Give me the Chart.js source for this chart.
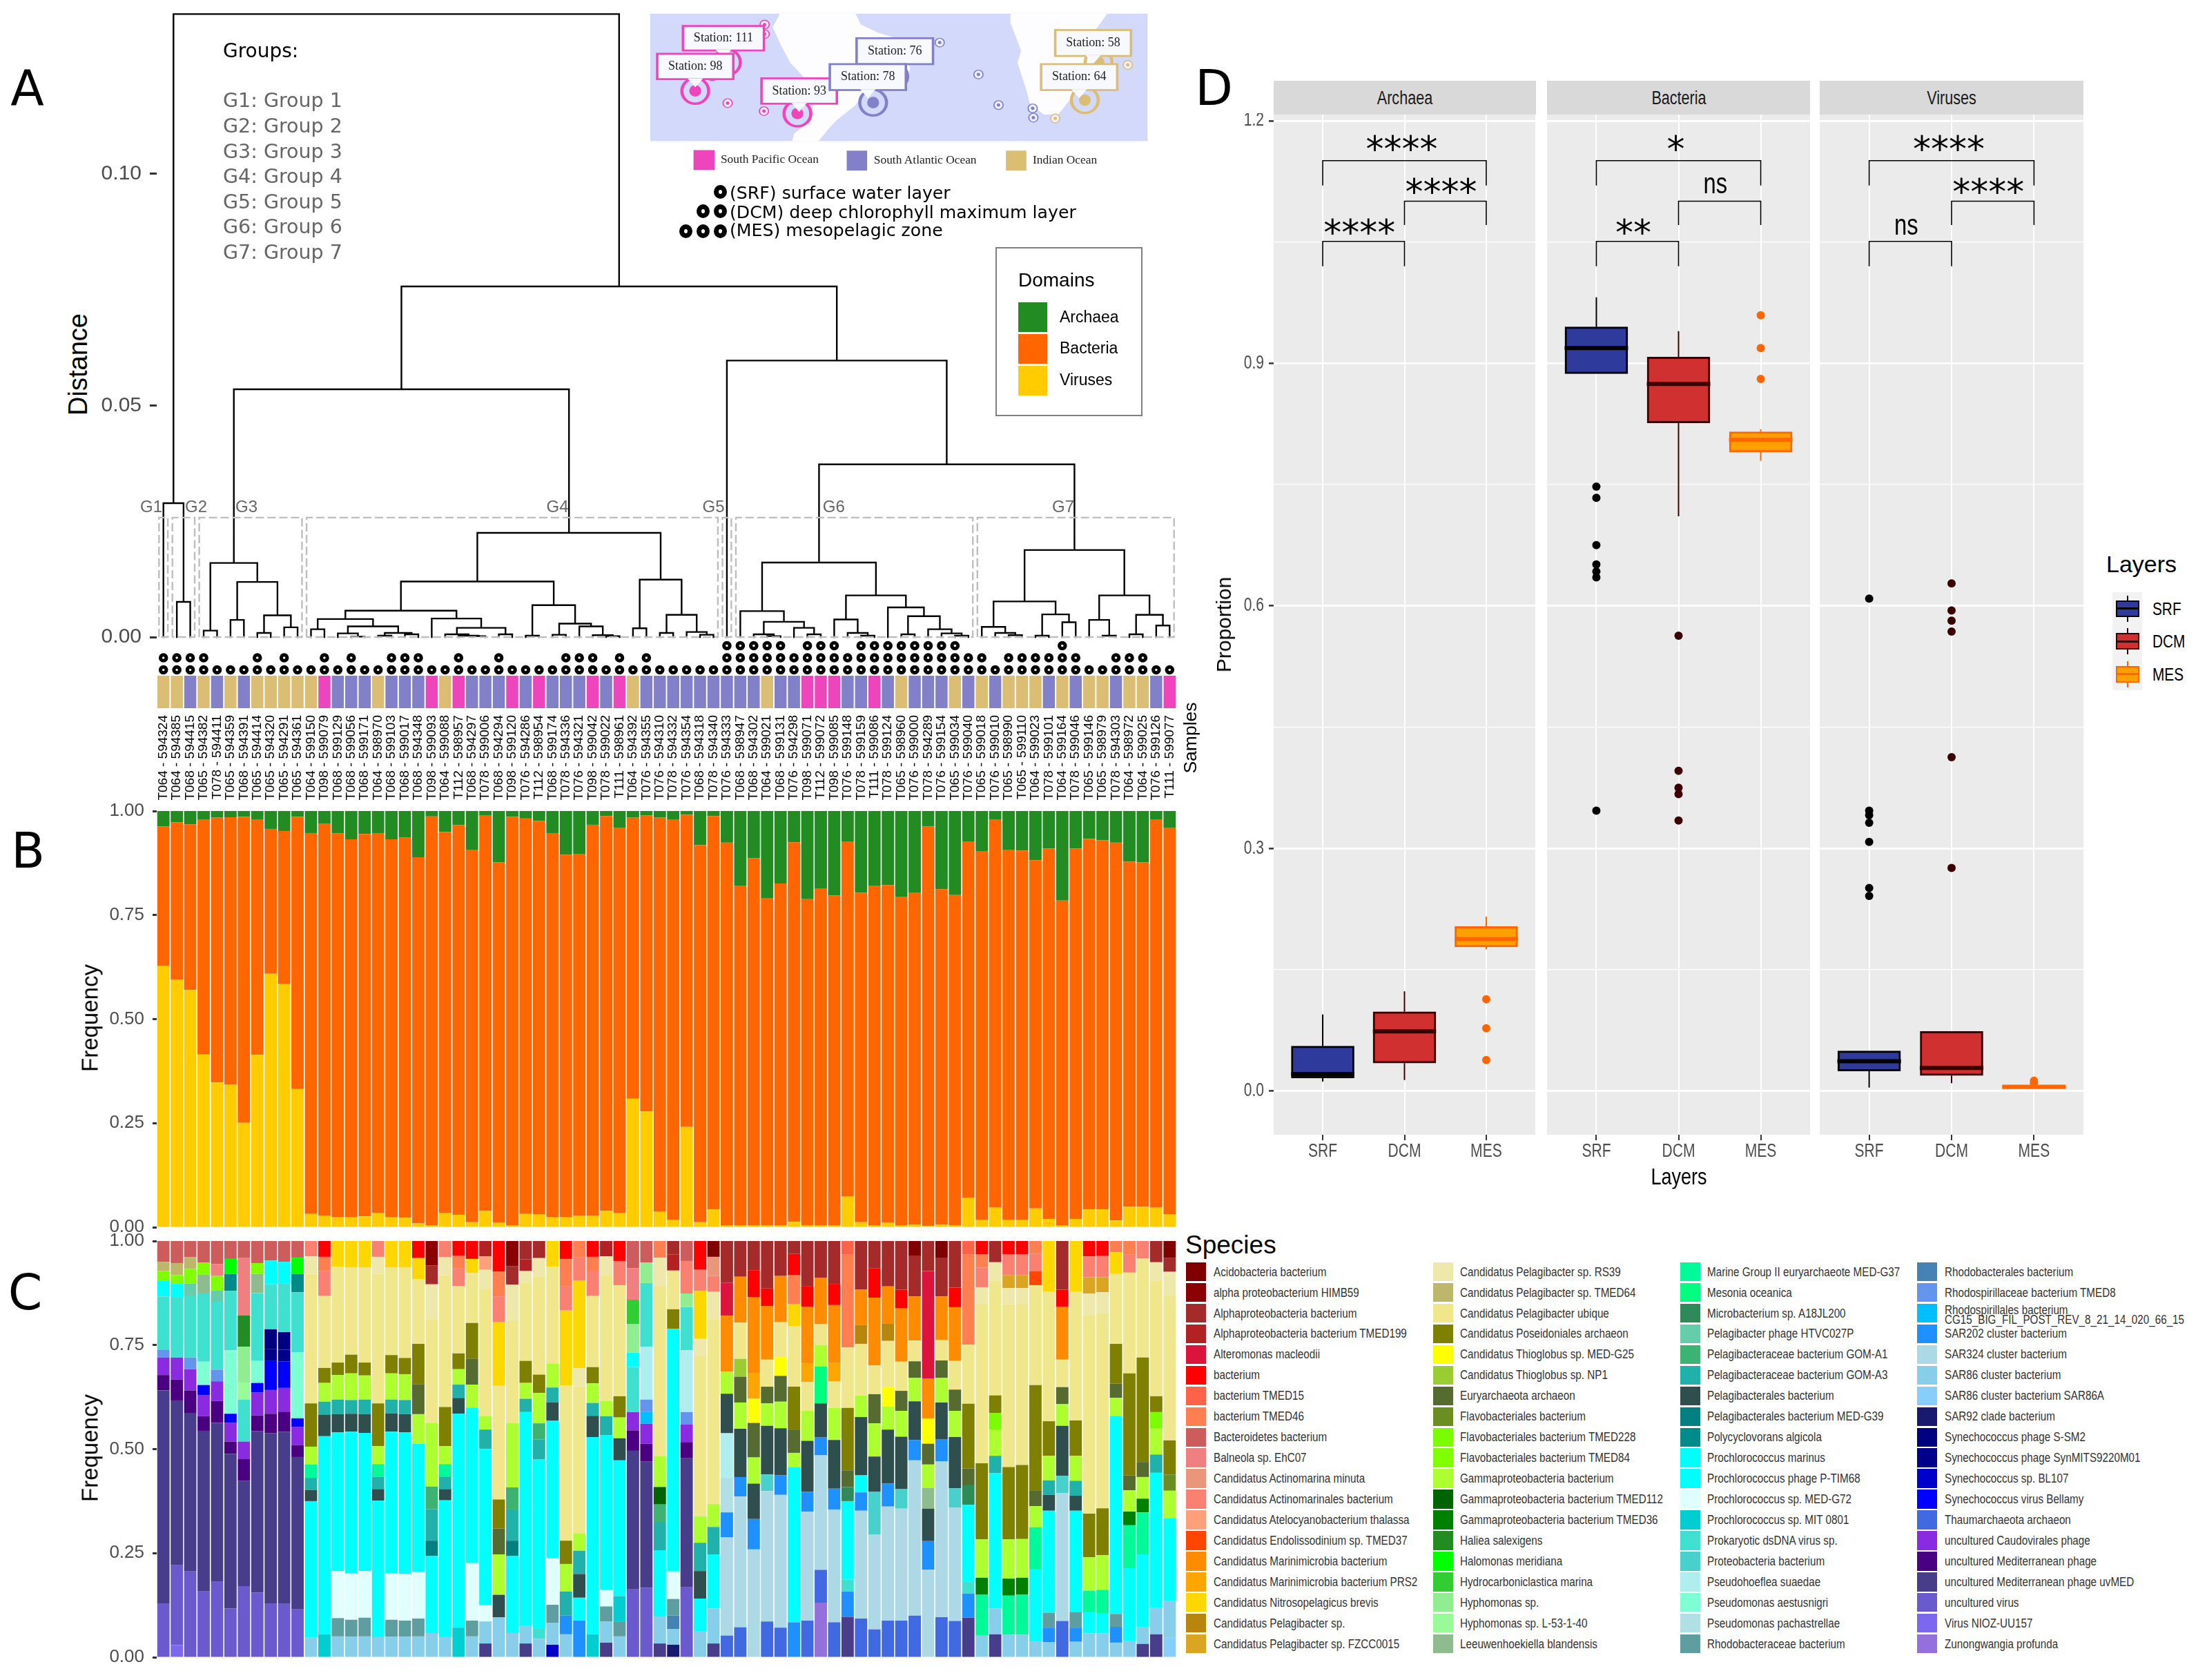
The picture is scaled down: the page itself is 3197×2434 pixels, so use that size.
<!DOCTYPE html>
<html>
<head>
<meta charset="utf-8">
<title>Panels A-D</title>
<script src="https://cdn.jsdelivr.net/npm/chart.js@4"></script>
<style>
  html, body { margin: 0; background: #fff; }
  #page { position: relative; width: 3197px; height: 2434px; overflow: hidden; background: #fff; }
  #page canvas, #page svg { position: absolute; }
  .txt { position: absolute; white-space: nowrap; line-height: 1; }
  .box { position: absolute; box-sizing: border-box; }
</style>
</head>
<body>
<div id="page"></div>
<script>
// ---- samples
const sampleLabels = [
  'T064 - 594324','T064 - 594385','T068 - 594415','T065 - 594382','T078 - 594411','T065 - 594359','T068 - 594391','T065 - 594414','T065 - 594320','T065 - 594291',
  'T065 - 594361','T064 - 599150','T098 - 599079','T068 - 599129','T068 - 599056','T068 - 599171','T064 - 598970','T068 - 599103','T068 - 599017','T068 - 594348',
  'T098 - 599093','T064 - 599088','T112 - 598957','T068 - 594297','T078 - 599006','T068 - 594294','T098 - 599120','T076 - 594286','T112 - 598954','T068 - 599174',
  'T078 - 594336','T076 - 594321','T098 - 599042','T078 - 599022','T111 - 598961','T064 - 594392','T076 - 594355','T076 - 594310','T078 - 594332','T076 - 594354',
  'T068 - 594318','T078 - 594340','T076 - 594333','T068 - 598947','T068 - 594302','T064 - 599021','T068 - 599131','T076 - 594298','T098 - 599071','T112 - 599072',
  'T098 - 599085','T076 - 599148','T078 - 599159','T111 - 599086','T078 - 599124','T065 - 598960','T076 - 599000','T078 - 594289','T076 - 599154','T065 - 599034',
  'T076 - 599040','T065 - 599018','T076 - 599010','T065 - 598990','T065 - 599110','T064 - 599023','T078 - 599101','T064 - 599164','T078 - 599046','T065 - 599146',
  'T065 - 598979','T078 - 594303','T064 - 598972','T064 - 599025','T076 - 599126','T111 - 599077'];
const stationOcean = { T064: 'Indian', T065: 'Indian', T068: 'Atlantic', T076: 'Atlantic', T078: 'Atlantic', T098: 'Pacific', T111: 'Pacific', T112: 'Pacific' };

// circles above the samples: every sample has the first one
const dcmRow = [1,2,3,4,8,10,13,15,18,19,20,23,26,31,32,33,35,37,43,44,45,46,47,48,49,50,51,52,53,54,55,56,57,58,59,60,61,62,64,65,66,67,68,69,72,73,74];
const mesRow = [43,44,45,46,47,49,50,51,53,54,55,56,57,58,59,60,68];

// ---- panel A, tree as [height, left, right], leaves are sample numbers
const treeG1G2 = [0.0289, 1, [0.0076, 2, 3]];
const treeG3 = [0.0160, [0.0014, 4, 5], [0.0119, [0.0037, 6, 7], [0.0047, [0.0009, 8, 9], [0.0021, 10, 11]]]];
const treeG4 = [0.0225,
  [0.0120,
    [0.0057,
      [0.0039, [0.0017, 12, 13], [0.0023, [0.0008, 14, [0.0001, 15, 16]], [0.0009, [0.0003, 17, 18], [0.0006, 19, 20]]]],
      [0.0040, 21, [0.0020, [0.0006, 22, [0.0003, 23, [0.0002, 24, 25]]], [0.0006, 26, 27]]]],
    [0.0069, [0.0003, 28, 29], [0.0029, [0.0005, 30, 31], [0.0023, 32, [0.0004, 33, [0.0002, 34, 35]]]]]],
  [0.0124, [0.0019, 36, 37], [0.0048, [0.0009, 38, 39], [0.0011, 40, [0.0005, 41, 42]]]]];
const treeG6 = [0.0161,
  [0.0056, 44, [0.0033, [0.0006, 45, [0.0002, 46, 47]], [0.0020, 48, [0.0006, 49, 50]]]],
  [0.0090,
    [0.0038, 51, [0.0009, 52, [0.0003, 53, 54]]],
    [0.0064, 55, [0.0045, [0.0006, 56, 57], [0.0017, 58, [0.0008, 59, [0.0003, 60, 61]]]]]]];
const treeG7 = [0.0188,
  [0.0077, [0.0022, 62, [0.0009, 63, [0.0004, 64, 65]]], [0.0049, [0.0003, 66, 67], [0.0032, 68, 69]]],
  [0.0090, [0.0037, 70, [0.0003, 71, 72]], [0.0048, [0.0006, 73, 74], [0.0025, 75, 76]]]];
const sampleTree = [0.1345, treeG1G2,
  [0.0757,
    [0.0535, treeG3, treeG4],
    [0.0597, 43, [0.0373, treeG6, treeG7]]]];
const groupNames = ['G1','G2','G3','G4','G5','G6','G7'];
const groupRanges = [[1,1],[2,3],[4,11],[12,42],[43,43],[44,61],[62,76]];
const groupBoxHeight = 0.0258;
const distanceTicks = [0, 0.05, 0.10];

// ---- panel B
const domainViruses = [.628,.595,.570,.415,.348,.343,.251,.414,.609,.584,.332,.032,.028,.024,.024,.026,.034,.024,.023,.009,.005,.034,.030,.012,.039,.011,.005,.032,.031,.024,.024,.028,.028,.039,.034,
  .309,.278,.038,.018,.241,.012,.043,.005,.005,.005,.005,.005,.013,.005,.005,.005,.074,.012,.005,.011,.005,.006,.003,.006,.005,.071,.018,.048,.018,.018,.045,.020,.005,.020,.043,.043,.016,.049,.049,.048,.031];
// top of the orange part of each bar
const domainBacteriaTop = [.963,.973,.968,.980,.984,.985,.986,.980,.957,.952,.986,.947,.969,.946,.932,.945,.947,.932,.936,.889,.987,.950,.966,.907,.990,.877,.986,.982,.976,.947,.895,.897,.967,.988,.959,
  .984,.989,.984,.980,.991,.918,.988,.924,.821,.887,.791,.826,.925,.788,.813,.797,.927,.804,.821,.822,.793,.803,.963,.812,.798,.927,.904,.980,.906,.905,.882,.910,.785,.910,.933,.930,.924,.878,.877,.980,.959];
const frequencyTicks = [0, 0.25, 0.5, 0.75, 1];

// ---- panel C species, legend order = stack order from the top
const speciesKeys = ['Aci','HIM','Alp','T199','Alt','bac','T15','T46','Bde','Bal','Ami','Aml','Ate','End','Mar','PRS','Nit','Psp','FZC',
  'RS39','T64','Ubi','Pos','G25','NP1','Eur','Fla','T228','T84','Gam','T112','T36','Hal','Hmn','Hyd','Hyp','L53','Lee',
  'G37','Mes','Mic','Pph','A1','A3','Pbr','G39','Pol','Pro','PTM','G72','MIT','dsD','Prt','Pse','Aes','Pac','Rbc',
  'Rbl','T8','Rsp','S202','S324','S86','S86A','S92','SSM','Syn','BL1','Bel','Tha','Cau','Med','uvM','unV','NIO','Zun'];
const speciesNames = ['Acidobacteria bacterium','alpha proteobacterium HIMB59','Alphaproteobacteria bacterium','Alphaproteobacteria bacterium TMED199','Alteromonas macleodii','bacterium','bacterium TMED15','bacterium TMED46','Bacteroidetes bacterium','Balneola sp. EhC07','Candidatus Actinomarina minuta','Candidatus Actinomarinales bacterium','Candidatus Atelocyanobacterium thalassa','Candidatus Endolissodinium sp. TMED37','Candidatus Marinimicrobia bacterium','Candidatus Marinimicrobia bacterium PRS2','Candidatus Nitrosopelagicus brevis','Candidatus Pelagibacter sp.','Candidatus Pelagibacter sp. FZCC0015',
  'Candidatus Pelagibacter sp. RS39','Candidatus Pelagibacter sp. TMED64','Candidatus Pelagibacter ubique','Candidatus Poseidoniales archaeon','Candidatus Thioglobus sp. MED-G25','Candidatus Thioglobus sp. NP1','Euryarchaeota archaeon','Flavobacteriales bacterium','Flavobacteriales bacterium TMED228','Flavobacteriales bacterium TMED84','Gammaproteobacteria bacterium','Gammaproteobacteria bacterium TMED112','Gammaproteobacteria bacterium TMED36','Haliea salexigens','Halomonas meridiana','Hydrocarboniclastica marina','Hyphomonas sp.','Hyphomonas sp. L-53-1-40','Leeuwenhoekiella blandensis',
  'Marine Group II euryarchaeote MED-G37','Mesonia oceanica','Microbacterium sp. A18JL200','Pelagibacter phage HTVC027P','Pelagibacteraceae bacterium GOM-A1','Pelagibacteraceae bacterium GOM-A3','Pelagibacterales bacterium','Pelagibacterales bacterium MED-G39','Polycyclovorans algicola','Prochlorococcus marinus','Prochlorococcus phage P-TIM68','Prochlorococcus sp. MED-G72','Prochlorococcus sp. MIT 0801','Prokaryotic dsDNA virus sp.','Proteobacteria bacterium','Pseudohoeflea suaedae','Pseudomonas aestusnigri','Pseudomonas pachastrellae','Rhodobacteraceae bacterium',
  'Rhodobacterales bacterium','Rhodospirillaceae bacterium TMED8','Rhodospirillales bacterium\nCG15_BIG_FIL_POST_REV_8_21_14_020_66_15','SAR202 cluster bacterium','SAR324 cluster bacterium','SAR86 cluster bacterium','SAR86 cluster bacterium SAR86A','SAR92 clade bacterium','Synechococcus phage S-SM2','Synechococcus phage SynMITS9220M01','Synechococcus sp. BL107','Synechococcus virus Bellamy','Thaumarchaeota archaeon','uncultured Caudovirales phage','uncultured Mediterranean phage','uncultured Mediterranean phage uvMED','uncultured virus','Virus NIOZ-UU157','Zunongwangia profunda'];
const speciesColors = ['#800000','#8B0000','#A52A2A','#B22222','#DC143C','#FF0000','#FF6347','#FF7F50','#CD5C5C','#F08080','#E9967A','#FA8072','#FFA07A','#FF4500','#FF8C00','#FFA500','#FFD700','#B8860B','#DAA520',
  '#EEE8AA','#BDB76B','#F0E68C','#808000','#FFFF00','#9ACD32','#556B2F','#6B8E23','#7CFC00','#7FFF00','#ADFF2F','#006400','#008000','#228B22','#00FF00','#32CD32','#90EE90','#98FB98','#8FBC8F',
  '#00FA9A','#00FF7F','#2E8B57','#66CDAA','#3CB371','#20B2AA','#2F4F4F','#008080','#008B8B','#00FFFF','#00FFFF','#E0FFFF','#00CED1','#40E0D0','#48D1CC','#AFEEEE','#7FFFD4','#B0E0E6','#5F9EA0',
  '#4682B4','#6495ED','#00BFFF','#1E90FF','#ADD8E6','#87CEEB','#87CEFA','#191970','#000080','#00008B','#0000CD','#0000FF','#4169E1','#8A2BE2','#4B0082','#483D8B','#6A5ACD','#7B68EE','#9370DB'];

// each sample, top to bottom: species, then where that segment ends
const speciesStacks = [
  ['Bde',.950,'T64',.928,'T84',.905,'Pro',.867,'dsD',.739,'T8',.720,'Cau',.678,'Med',.641,'uvM',.128,'unV',0],
  ['Bde',.947,'T64',.918,'T84',.897,'Pro',.864,'dsD',.720,'Cau',.667,'Med',.617,'uvM',.221,'unV',.029,'NIO',0],
  ['Bde',.961,'T64',.933,'T84',.898,'Pph',.869,'dsD',.720,'T8',.692,'Cau',.641,'Med',.587,'uvM',.206,'unV',0],
  ['Bde',.948,'T84',.919,'Lee',.874,'dsD',.710,'Aes',.654,'Bel',.630,'Cau',.579,'Med',.544,'uvM',.158,'unV',0],
  ['Bde',.945,'Bal',.916,'T84',.881,'Pph',.854,'dsD',.691,'T8',.663,'Cau',.616,'Med',.563,'uvM',.181,'unV',0],
  ['Bde',.957,'Hmn',.921,'Pol',.880,'dsD',.737,'Aes',.585,'Bel',.563,'Cau',.518,'Med',.489,'uvM',.117,'unV',0],
  ['Bde',.960,'Bal',.821,'Hal',.746,'Hyp',.659,'L53',.619,'dsD',.518,'Cau',.477,'Med',.424,'uvM',.171,'unV',0],
  ['Bde',.947,'T84',.921,'Lee',.875,'dsD',.712,'Aes',.659,'Bel',.636,'Cau',.581,'Med',.543,'uvM',.155,'unV',0],
  ['Bde',.953,'Pro',.896,'dsD',.788,'SSM',.741,'Syn',.713,'Bel',.642,'Cau',.585,'Med',.538,'uvM',.128,'unV',0],
  ['Bde',.950,'Pro',.898,'dsD',.781,'SSM',.739,'Syn',.711,'Bel',.647,'Cau',.590,'Med',.542,'uvM',.128,'unV',0],
  ['Bde',.960,'Hmn',.921,'Pol',.877,'dsD',.733,'Aes',.574,'Bel',.553,'Cau',.510,'Med',.481,'uvM',.115,'unV',0],
  ['Aml',.963,'RS39',.921,'Ubi',.610,'Pos',.506,'Gam',.463,'G37',.431,'A3',.402,'Pbr',.375,'Pro',.047,'S86',0],
  ['bac',.962,'T46',.928,'Aml',.868,'Ubi',.695,'Pos',.659,'Gam',.614,'A3',.583,'Pbr',.531,'Pro',.055,'MIT',0],
  ['Nit',.938,'Ubi',.708,'Pos',.678,'Gam',.619,'A3',.584,'Pbr',.540,'Pro',.207,'G72',.094,'Rbc',.050,'S86',0],
  ['Nit',.937,'Ubi',.727,'Pos',.682,'Gam',.618,'A3',.585,'Pbr',.542,'Pro',.202,'G72',.090,'Rbc',.049,'S86',0],
  ['Nit',.937,'Ubi',.708,'Pos',.677,'Gam',.619,'A3',.584,'Pbr',.539,'Pro',.207,'G72',.095,'Rbc',.050,'S86',0],
  ['Aml',.962,'RS39',.921,'Ubi',.610,'Pos',.507,'Gam',.464,'G37',.433,'A3',.404,'Pbr',.376,'Pro',.048,'S86',0],
  ['Nit',.937,'Ubi',.726,'Pos',.682,'Gam',.619,'A3',.586,'Pbr',.542,'Pro',.202,'G72',.090,'Rbc',.049,'S86',0],
  ['Nit',.936,'Ubi',.719,'Pos',.680,'Gam',.618,'A3',.584,'Pbr',.540,'Pro',.200,'G72',.088,'Rbc',.049,'S86',0],
  ['bac',.959,'Nit',.908,'Ubi',.753,'Pos',.656,'Eur',.584,'Gam',.513,'Pro',.205,'G72',.093,'Rbc',.050,'S86',0],
  ['HIM',.941,'Alp',.896,'RS39',.811,'Ubi',.563,'Gam',.410,'A1',.356,'A3',.280,'G39',.243,'Pro',.058,'S86',0],
  ['Aml',.961,'RS39',.918,'Ubi',.601,'Pos',.507,'Gam',.464,'G37',.434,'A3',.404,'Pbr',.377,'Pro',.048,'S86',0],
  ['bac',.965,'T46',.935,'Aml',.892,'Ubi',.730,'Pos',.692,'Gam',.655,'A3',.623,'Pbr',.585,'Pro',.071,'MIT',0],
  ['bac',.957,'Nit',.923,'Ubi',.803,'Pos',.717,'Eur',.655,'Gam',.600,'Pro',.226,'G72',.088,'Rbc',.050,'S86',0],
  ['T199',.963,'Ate',.931,'RS39',.885,'Ubi',.580,'Gam',.547,'A3',.500,'Pro',.126,'G72',.086,'S86',.033,'uvM',0],
  ['bac',.927,'T46',.867,'Aml',.806,'Nit',.652,'Ubi',.379,'Pos',.309,'Eur',.247,'Gam',.150,'Pbr',.096,'S86',0],
  ['HIM',.940,'Alp',.895,'RS39',.810,'Ubi',.563,'Gam',.408,'A1',.355,'A3',.280,'G39',.243,'Pro',.058,'S86',0],
  ['Alp',.956,'T199',.928,'RS39',.900,'Ubi',.712,'Pos',.659,'Gam',.621,'A3',.589,'Pro',.076,'S86',.033,'uvM',0],
  ['Alp',.959,'RS39',.914,'Ubi',.679,'Pos',.635,'Gam',.562,'A1',.523,'A3',.475,'Pro',.068,'dsD',.044,'S86',0],
  ['Nit',.938,'Ubi',.706,'Gam',.648,'A3',.612,'Pbr',.568,'Pro',.239,'G72',.126,'Rbc',.082,'S86',.030,'BL1',0],
  ['bac',.957,'T46',.892,'Aml',.833,'Nit',.653,'Ubi',.280,'Pos',.224,'Gam',.158,'A3',.100,'S202',.055,'S86',0],
  ['T46',.961,'Aml',.905,'Nit',.695,'RS39',.651,'Ubi',.297,'Gam',.256,'A3',.200,'Pbr',.143,'Pro',.088,'S202',0],
  ['bac',.962,'T46',.927,'Aml',.868,'Ubi',.697,'Pos',.658,'Gam',.611,'A3',.580,'Pbr',.529,'Pro',.055,'MIT',0],
  ['T199',.963,'RS39',.917,'Ubi',.616,'Gam',.579,'A3',.534,'Pro',.162,'G72',.122,'Rbc',.086,'S86',.035,'uvM',0],
  ['bac',.952,'Aml',.894,'Ubi',.627,'Pos',.576,'Gam',.526,'Pbr',.473,'Pro',.147,'MIT',.086,'Rbc',.050,'S86',0],
  ['Bde',.935,'Bal',.859,'Hyd',.800,'Hyp',.732,'Pro',.697,'dsD',.589,'Cau',.545,'Med',.496,'uvM',.163,'unV',0],
  ['Bde',.948,'Hyp',.899,'dsD',.746,'Pse',.619,'T8',.590,'Rsp',.561,'Cau',.513,'Med',.470,'uvM',.167,'unV',0],
  ['T46',.960,'RS39',.893,'Ubi',.483,'Gam',.409,'T112',.367,'A1',.325,'A3',.257,'Pro',.098,'S86',.033,'uvM',0],
  ['Alp',.968,'T199',.929,'Ubi',.836,'Pos',.789,'Pro',.206,'G72',.140,'Rbc',.100,'Rbl',.068,'S86',.030,'S92',0],
  ['Bde',.952,'Aml',.874,'Hyp',.841,'dsD',.738,'Pse',.589,'T8',.559,'Cau',.517,'Med',.478,'uvM',.168,'unV',0],
  ['bac',.932,'Aml',.880,'Nit',.765,'RS39',.723,'Ubi',.339,'Gam',.275,'A3',.207,'Pbr',.141,'Pro',.063,'S86',0],
  ['Aci',.962,'Ami',.916,'Aml',.878,'RS39',.811,'Ubi',.368,'Gam',.313,'A3',.247,'Pro',.117,'S86',.033,'uvM',0],
  ['Alp',.900,'Alt',.821,'Mar',.686,'Gam',.633,'Pbr',.538,'Pse',.431,'Pac',.348,'S202',.288,'S324',.052,'Tha',0],
  ['Alp',.914,'Mar',.804,'Ubi',.717,'NP1',.674,'Eur',.612,'Gam',.549,'Pbr',.433,'S202',.386,'S324',.072,'Tha',0],
  ['Alp',.930,'bac',.865,'Mar',.682,'PRS',.621,'G25',.563,'Eur',.480,'Gam',.417,'Pbr',.332,'S202',.259,'S324',0],
  ['Alp',.886,'bac',.844,'Mar',.715,'Ubi',.650,'Eur',.610,'Gam',.556,'Pbr',.439,'Prt',.399,'S324',.086,'Tha',0],
  ['Alp',.916,'Mar',.805,'Ubi',.721,'G25',.676,'Eur',.614,'Gam',.550,'Pbr',.437,'S202',.390,'S324',.071,'Tha',0],
  ['Alp',.969,'bac',.918,'T46',.849,'Nit',.796,'Ubi',.650,'Pos',.547,'Eur',.491,'Gam',.457,'Pro',.084,'S202',0],
  ['Alp',.892,'bac',.842,'Mar',.706,'PRS',.661,'Ubi',.592,'Gam',.520,'Pbr',.397,'S202',.350,'S324',.088,'Tha',0],
  ['Alp',.912,'Mar',.800,'Ubi',.750,'Gam',.698,'Mes',.610,'Pbr',.528,'S202',.485,'S324',.210,'Tha',.131,'Zun',0],
  ['Alp',.897,'bac',.846,'Mar',.707,'PRS',.663,'Ubi',.599,'Gam',.522,'Pbr',.405,'S202',.355,'S324',.084,'Tha',0],
  ['T15',.968,'T46',.744,'Ubi',.599,'Pos',.449,'Eur',.409,'Mic',.375,'Pro',.186,'dsD',.158,'S202',.097,'uvM',0],
  ['Alp',.883,'Mar',.798,'Psp',.753,'Ubi',.629,'Gam',.577,'Pbr',.437,'Pro',.396,'S202',.352,'S324',.093,'Tha',0],
  ['Alp',.934,'bac',.864,'Mar',.701,'Ubi',.632,'Eur',.562,'Gam',.482,'Pbr',.398,'Prt',.295,'S324',.067,'Tha',0],
  ['Alp',.891,'Mar',.802,'Psp',.760,'Ubi',.650,'G25',.602,'Gam',.547,'Pbr',.417,'S202',.362,'S324',.088,'Tha',0],
  ['Alp',.883,'bac',.839,'Mar',.710,'Ubi',.640,'Eur',.592,'Gam',.530,'Pbr',.404,'Prt',.357,'S324',.088,'Tha',0],
  ['Aci',.965,'Alp',.867,'Mar',.761,'Ubi',.711,'Eur',.671,'Gam',.615,'Pbr',.522,'S202',.473,'S324',.100,'Tha',0],
  ['Alp',.928,'Alt',.669,'Mar',.574,'G25',.513,'Eur',.463,'Gam',.407,'Lee',.357,'Pbr',.279,'S202',.210,'S324',0],
  ['Aci',.960,'Alp',.867,'Mar',.762,'Ubi',.713,'Eur',.671,'Gam',.612,'Pbr',.524,'S202',.471,'S324',.096,'Tha',0],
  ['Alp',.888,'bac',.841,'Mar',.712,'Ubi',.643,'Eur',.592,'Gam',.529,'Pbr',.406,'Prt',.359,'S324',.087,'Tha',0],
  ['T15',.968,'T46',.751,'Ubi',.609,'Pos',.453,'Eur',.413,'Mic',.366,'Pro',.182,'dsD',.153,'S202',.095,'uvM',0],
  ['bac',.968,'T46',.936,'Aml',.889,'RS39',.849,'Ubi',.466,'Pos',.283,'Gam',.191,'T36',.150,'G37',.052,'S86',0],
  ['Alp',.949,'RS39',.905,'Ubi',.629,'Pos',.587,'T228',.547,'Gam',.484,'A3',.442,'Pro',.117,'S86',.055,'uvM',0],
  ['bac',.968,'Aml',.918,'FZC',.887,'RS39',.848,'Ubi',.457,'Pos',.283,'Gam',.189,'T36',.148,'G37',.054,'S86',0],
  ['bac',.968,'Aml',.918,'FZC',.887,'RS39',.849,'Ubi',.462,'Pos',.284,'Gam',.191,'T36',.150,'G37',.054,'S86',0],
  ['T46',.969,'Aml',.927,'End',.894,'Ubi',.654,'Pos',.401,'Eur',.363,'Gam',.312,'G37',.211,'Pro',.038,'S86',0],
  ['Nit',.879,'Ubi',.567,'Pos',.484,'Gam',.425,'A3',.390,'Pbr',.352,'Pro',.107,'Rbc',.071,'S202',.036,'S86',0],
  ['Alp',.883,'bac',.842,'Mar',.715,'Ubi',.649,'Eur',.608,'Gam',.556,'Pbr',.436,'Prt',.394,'S324',.087,'Tha',0],
  ['Nit',.879,'Ubi',.569,'Pos',.484,'Gam',.424,'A3',.388,'Pbr',.352,'Pro',.108,'Rbc',.071,'S202',.037,'S86',0],
  ['bac',.963,'Aml',.913,'FZC',.874,'RS39',.822,'Ubi',.345,'Pos',.240,'Gam',.160,'G37',.108,'Pro',.057,'S86',0],
  ['bac',.964,'Aml',.913,'FZC',.877,'RS39',.826,'Ubi',.358,'Pos',.245,'Gam',.162,'G37',.106,'Pro',.057,'S86',0],
  ['T46',.973,'Nit',.921,'Ubi',.753,'Pos',.657,'Eur',.623,'Gam',.579,'Pro',.104,'Rbc',.073,'S202',.035,'S86',0],
  ['T46',.968,'Aml',.924,'Ubi',.682,'Pos',.437,'Eur',.401,'Gam',.350,'T36',.317,'G37',.214,'Pro',.039,'S86',0],
  ['Aml',.958,'Ubi',.720,'Pos',.469,'Eur',.433,'Gam',.381,'T36',.348,'G37',.247,'Pro',.072,'S86',.032,'uvM',0],
  ['Alp',.949,'RS39',.905,'Ubi',.627,'Pos',.589,'T228',.550,'Gam',.487,'A3',.443,'Pro',.118,'S86',.055,'uvM',0],
  ['Aci',.960,'Alp',.926,'RS39',.869,'Ubi',.521,'Pos',.439,'Fla',.400,'Gam',.334,'Pro',.135,'S86',.047,'S86A',0]
];

// ---- panel D, boxes per layer: [low whisker, q1, median, q3, high whisker]
const layerNames = ['SRF', 'DCM', 'MES'];
const archaeaBoxes = [[.0117,.0159,.021,.0555,.0947], [.0135,.0345,.0737,.098,.1232], [.1754,.1782,.188,.2034,.2156]];
const bacteriaBoxes = [[.8873,.8873,.919,.9451,.9817], [.7109,.8263,.8746,.9077,.9399], [.7793,.7902,.8054,.8154,.8185]];
const virusesBoxes = [[.0042,.0247,.0369,.0495,.0495], [.0098,.0191,.0285,.0737,.0737], [.0033,.0033,.005,.0075,.0075]];
const archaeaOutliers = [[], [], [.1134,.0775,.0383]];
const bacteriaOutliers = [[.7475,.7336,.6752,.6513,.6426,.6352,.3467], [.5632,.3961,.3751,.3672,.3345], [.9595,.919,.8807]];
const virusesOutliers = [[.6091,.3467,.3411,.3318,.308,.251,.2412], [.6278,.5944,.5818,.5683,.4129,.2758], [.0126,.0098]];
const archaeaSig = ['****', '****', '****'];
const bacteriaSig = ['*', 'ns', '**'];
const virusesSig = ['****', '****', 'ns'];
const proportionTicks = [0, .15, .3, .45, .6, .75, .9, 1.05, 1.2];

// ---- styling
const oceanColor = { Pacific: '#EF45BC', Atlantic: '#8280C8', Indian: '#DBBE74' };
const domainColor = { Archaea: '#228B22', Bacteria: '#FF6600', Viruses: '#FFCC00' };
const layerFill = ['#2E3A9C', '#D13030', '#FF9F00'];
const layerEdge = ['#000000', '#3A0000', '#FF6600'];
const SANS = '"Liberation Sans",Arial,sans-serif';
const DEJAVU = '"DejaVu Sans",sans-serif';
const SERIF = '"Liberation Serif",serif';
const SQUEEZE = 0.78;   // panel D text in the figure is squeezed sideways

const page = document.getElementById('page');
Chart.defaults.animation = false;
Chart.defaults.responsive = false;
Chart.defaults.devicePixelRatio = 1;
Chart.defaults.layout.autoPadding = false;

// ---- page helpers
function addText(text, x, y, opts) {
  opts = opts || {};
  const el = document.createElement('div');
  el.className = 'txt';
  el.innerHTML = text.replace(/\n/g, '<br>');
  el.style.left = x + 'px';
  el.style.top = y + 'px';
  el.style.font = (opts.size || 20) + 'px ' + (opts.font || SANS);
  el.style.lineHeight = opts.lineHeight || 1;
  el.style.color = opts.color || '#000';
  const shift = opts.anchor === 'left' ? 'translate(0,-50%)' : 'translate(-50%,-50%)';
  el.style.transformOrigin = opts.anchor === 'left' ? 'left center' : 'center';
  el.style.transform = shift + (opts.rotate ? ' rotate(' + opts.rotate + 'deg)' : '') + (opts.sx ? ' scaleX(' + opts.sx + ')' : '');
  page.appendChild(el);
  return el;
}
function addBox(l, t, w, h, css) {
  const el = document.createElement('div');
  el.className = 'box';
  el.style.left = l + 'px'; el.style.top = t + 'px';
  el.style.width = w + 'px'; el.style.height = h + 'px';
  Object.assign(el.style, css);
  page.appendChild(el);
  return el;
}
// canvas placed so that the chart area lands on plot {l,t,r,b}
function addCanvas(plot, m) {
  const c = document.createElement('canvas');
  c.width = plot.r - plot.l + m.l + m.r;
  c.height = plot.b - plot.t + m.t + m.b;
  c.style.left = (plot.l - m.l) + 'px';
  c.style.top = (plot.t - m.t) + 'px';
  page.appendChild(c);
  return c;
}
// fixed axis width, and no extra room kept for the first and last tick label
function fitWidth(w) { return function (s) { s.width = w; s.paddingTop = 0; s.paddingBottom = 0; }; }
function fitHeight(h) { return function (s) { s.height = h; s.paddingLeft = 0; s.paddingRight = 0; }; }
function fixedTicks(list) { return function (s) { s.ticks = list.map(function (v) { return { value: v }; }); }; }
function squeezedText(ctx, text, x, y, font, color, align) {
  ctx.save();
  ctx.translate(x, y);
  ctx.scale(SQUEEZE, 1);
  ctx.font = font;
  ctx.fillStyle = color;
  ctx.textAlign = align;
  ctx.textBaseline = 'middle';
  ctx.fillText(text, 0, 0);
  ctx.restore();
}

const samplesX = { type: 'linear', display: false, min: 0.5, max: 76.5 };
const PLOT_L = 226.8, PLOT_R = 1704;

// ---- panel A: tree
function treeSegments(node, out) {
  if (typeof node === 'number') return { x: node, y: 0 };
  const a = treeSegments(node[1], out);
  const b = treeSegments(node[2], out);
  const h = node[0];
  out.push({ x: a.x, y: a.y }, { x: a.x, y: h }, { x: b.x, y: h }, { x: b.x, y: b.y }, { x: NaN, y: NaN });
  return { x: (a.x + b.x) / 2, y: h };
}
const treePoints = [];
treeSegments(sampleTree, treePoints);
const boxPoints = [];
groupRanges.forEach(function (g) {
  const a = g[0] - 0.33, b = g[1] + 0.33;
  boxPoints.push({ x: a, y: 0 }, { x: a, y: groupBoxHeight }, { x: b, y: groupBoxHeight }, { x: b, y: 0 }, { x: a, y: 0 }, { x: NaN, y: NaN });
});
new Chart(addCanvas({ l: PLOT_L, r: PLOT_R, t: 15, b: 923.3 }, { l: 90, r: 4, t: 4, b: 20 }), {
  type: 'scatter',
  data: { datasets: [
    { data: boxPoints, showLine: true, pointRadius: 0, borderColor: '#BEBEBE', borderWidth: 2.4, borderDash: [12, 5], clip: false },
    { data: treePoints, showLine: true, pointRadius: 0, borderColor: '#000', borderWidth: 2.4, clip: false, borderCapStyle: 'square' }
  ] },
  options: {
    layout: { padding: { top: 4, right: 4, bottom: 20 } },
    plugins: { legend: { display: false }, tooltip: { enabled: false } },
    scales: {
      x: samplesX,
      y: {
        min: 0, max: 0.1353, afterFit: fitWidth(90), afterBuildTicks: fixedTicks(distanceTicks),
        border: { display: false },
        grid: { drawOnChartArea: false, tickLength: 10, tickColor: '#333', tickWidth: 3 },
        ticks: { padding: 12, color: '#4D4D4D', font: { family: SANS, size: 30 }, callback: function (v) { return v.toFixed(2); } }
      }
    }
  }
});

// circles per sample
const rowAll = sampleLabels.map(function (s, i) { return { x: i + 1, y: 1 }; });
const rowDcm = dcmRow.map(function (n) { return { x: n, y: 2 }; });
const rowMes = mesRow.map(function (n) { return { x: n, y: 3 }; });
new Chart(addCanvas({ l: PLOT_L, r: PLOT_R, t: 917.5, b: 987.5 }, { l: 0, r: 0, t: 0, b: 0 }), {
  type: 'scatter',
  data: { datasets: [{ data: rowAll.concat(rowDcm, rowMes), pointRadius: 4.3, borderWidth: 5, borderColor: '#000', backgroundColor: '#fff' }] },
  options: {
    plugins: { legend: { display: false }, tooltip: { enabled: false } },
    scales: { x: samplesX, y: { display: false, min: 0, max: 4 } }
  }
});

// ocean strip and sample names
new Chart(addCanvas({ l: PLOT_L, r: PLOT_R, t: 979.3, b: 1026.7 }, { l: 0, r: 0, t: 0, b: 146 }), {
  type: 'bar',
  data: {
    labels: sampleLabels,
    datasets: [{
      data: sampleLabels.map(function () { return 1; }),
      backgroundColor: sampleLabels.map(function (s) { return oceanColor[stationOcean[s.slice(0, 4)]]; }),
      barPercentage: 0.9, categoryPercentage: 1
    }]
  },
  options: {
    plugins: { legend: { display: false }, tooltip: { enabled: false } },
    scales: {
      x: {
        afterFit: fitHeight(146), border: { display: false }, grid: { display: false, drawTicks: false },
        ticks: { autoSkip: false, minRotation: 90, maxRotation: 90, padding: 10, color: '#000', font: { family: SANS, size: 19 } }
      },
      y: { display: false, min: 0, max: 1 }
    }
  }
});

// ---- panel B
function frequencyAxis() {
  return {
    stacked: true, min: 0, max: 1, afterFit: fitWidth(90), afterBuildTicks: fixedTicks(frequencyTicks),
    border: { display: false },
    grid: { drawOnChartArea: false, tickLength: 6, tickColor: '#333', tickWidth: 3 },
    ticks: { padding: 12, color: '#4D4D4D', font: { family: SANS, size: 26 }, callback: function (v) { return v.toFixed(2); } }
  };
}
new Chart(addCanvas({ l: PLOT_L, r: PLOT_R, t: 1175, b: 1778.8 }, { l: 90, r: 4, t: 14, b: 14 }), {
  type: 'bar',
  data: {
    labels: sampleLabels,
    datasets: [
      { label: 'Viruses', data: domainViruses, backgroundColor: domainColor.Viruses },
      { label: 'Bacteria', data: domainBacteriaTop.map(function (t, i) { return t - domainViruses[i]; }), backgroundColor: domainColor.Bacteria },
      { label: 'Archaea', data: domainBacteriaTop.map(function (t) { return 1 - t; }), backgroundColor: domainColor.Archaea }
    ].map(function (d) { d.barPercentage = 0.92; d.categoryPercentage = 1; return d; })
  },
  options: {
    layout: { padding: { top: 14, right: 4, bottom: 14 } },
    plugins: { legend: { display: false }, tooltip: { enabled: false } },
    scales: { x: { stacked: true, display: false }, y: frequencyAxis() }
  }
});

// ---- panel C
const speciesDatasets = speciesKeys.map(function (key, k) {
  const values = speciesStacks.map(function (stack) {
    let top = 1;
    for (let i = 0; i < stack.length; i += 2) {
      if (stack[i] === key) return top - stack[i + 1];
      top = stack[i + 1];
    }
    return 0;
  });
  return { label: speciesNames[k], data: values, backgroundColor: speciesColors[k], barPercentage: 0.92, categoryPercentage: 1 };
}).reverse();
new Chart(addCanvas({ l: PLOT_L, r: PLOT_R, t: 1798, b: 2401.6 }, { l: 90, r: 4, t: 14, b: 14 }), {
  type: 'bar',
  data: { labels: sampleLabels, datasets: speciesDatasets },
  options: {
    layout: { padding: { top: 14, right: 4, bottom: 14 } },
    plugins: { legend: { display: false }, tooltip: { enabled: false } },
    scales: { x: { stacked: true, display: false }, y: frequencyAxis() }
  }
});

// ---- panel D
const panelBg = {
  id: 'panelBg',
  beforeDraw: function (chart) {
    const a = chart.chartArea;
    chart.ctx.fillStyle = '#EBEBEB';
    chart.ctx.fillRect(a.left, a.top, a.width, a.height);
  }
};
// tick labels come from the scales, drawn squeezed
const squeezedTicks = {
  id: 'squeezedTicks',
  afterDraw: function (chart) {
    const sx = chart.scales.x, sy = chart.scales.y, font = '27px ' + SANS;
    sx.ticks.forEach(function (t) {
      squeezedText(chart.ctx, layerNames[t.value - 1], sx.getPixelForValue(t.value), 1669 - 166.2 + 2, font, '#4D4D4D', 'center');
    });
    if (!chart.options.scales.y.grid.drawTicks) return;
    sy.ticks.forEach(function (t) {
      if (Math.round(t.value * 100) % 30 !== 0) return;
      squeezedText(chart.ctx, t.value.toFixed(1), chart.chartArea.left - 14, sy.getPixelForValue(t.value), font, '#4D4D4D', 'right');
    });
  }
};
function sigPlugin(labels) {
  // top, right and left brackets
  const spots = [[1.967, 1.173], [2.447, 1.12], [1.45, 1.069]];
  return {
    id: 'sig',
    afterDatasetsDraw: function (chart) {
      const ctx = chart.ctx, sx = chart.scales.x, sy = chart.scales.y;
      labels.forEach(function (t, i) {
        const px = sx.getPixelForValue(spots[i][0]), py = sy.getPixelForValue(spots[i][1]);
        if (t.indexOf('*') >= 0) {
          ctx.save();
          ctx.fillStyle = '#000';
          ctx.textAlign = 'center';
          ctx.font = '52px ' + DEJAVU;
          const m = ctx.measureText(t);
          ctx.fillText(t, px, py + (m.actualBoundingBoxAscent - m.actualBoundingBoxDescent) / 2);
          ctx.restore();
        } else {
          squeezedText(ctx, t, px, py, '42px ' + SANS, '#000', 'center');
        }
      });
    }
  };
}
function bracketPoints() {
  return [
    { x: 1, y: 1.12 }, { x: 1, y: 1.1507 }, { x: 3, y: 1.1507 }, { x: 3, y: 1.12 }, { x: NaN, y: NaN },
    { x: 2, y: 1.071 }, { x: 2, y: 1.1006 }, { x: 3, y: 1.1006 }, { x: 3, y: 1.071 }, { x: NaN, y: NaN },
    { x: 1, y: 1.02 }, { x: 1, y: 1.0508 }, { x: 2, y: 1.0508 }, { x: 2, y: 1.02 }
  ];
}
function facet(plot, boxes, outliers, sig, leftAxis) {
  const m = { l: leftAxis ? 90 : 2, r: 2, t: 2, b: 60 };
  const ds = [];
  ds.push({ type: 'scatter', data: bracketPoints(), showLine: true, pointRadius: 0, borderColor: '#000', borderWidth: 1.6, order: 1, clip: false });
  boxes.forEach(function (b, i) {
    const x = i + 1;
    ds.push({ type: 'scatter', data: [{ x: x - 0.386, y: b[2] }, { x: x + 0.386, y: b[2] }], showLine: true, pointRadius: 0, borderColor: layerEdge[i], borderWidth: 6, order: 1 });
    ds.push({ type: 'scatter', data: [{ x: x, y: b[0] }, { x: x, y: b[1] }, { x: NaN, y: NaN }, { x: x, y: b[3] }, { x: x, y: b[4] }], showLine: true, pointRadius: 0, borderColor: layerEdge[i], borderWidth: 2, order: 3 });
    ds.push({ type: 'scatter', data: outliers[i].map(function (v) { return { x: x, y: v }; }), pointRadius: 6, backgroundColor: layerEdge[i], borderWidth: 0, order: 1 });
  });
  ds.push({
    type: 'bar', order: 2, barThickness: 91, grouped: false,
    data: boxes.map(function (b, i) { return { x: i + 1, y: [b[1], b[3]] }; }),
    backgroundColor: layerFill, borderColor: layerEdge, borderWidth: 3, borderSkipped: false
  });
  new Chart(addCanvas(plot, m), {
    type: 'bar',
    data: { datasets: ds },
    options: {
      layout: { padding: { top: m.t, right: m.r } },
      plugins: { legend: { display: false }, tooltip: { enabled: false } },
      scales: {
        x: {
          type: 'linear', offset: false, min: 0.4, max: 3.6, afterFit: fitHeight(m.b), afterBuildTicks: fixedTicks([1, 2, 3]),
          border: { display: false },
          grid: { offset: false, color: '#fff', lineWidth: 2, tickColor: '#333', tickWidth: 2, tickLength: 8 },
          ticks: { display: false }
        },
        y: {
          min: -0.0541, max: 1.2077, afterFit: fitWidth(m.l), afterBuildTicks: fixedTicks(proportionTicks),
          border: { display: false },
          grid: {
            color: '#fff',
            lineWidth: function (c) { return c.tick && Math.round(c.tick.value * 100) % 30 === 0 ? 2.8 : 1.3; },
            drawTicks: leftAxis, tickLength: 7, tickWidth: 2.5,
            tickColor: function (c) { return c.tick && Math.round(c.tick.value * 100) % 30 === 0 ? '#333' : 'rgba(0,0,0,0)'; }
          },
          ticks: { display: false }
        }
      }
    },
    plugins: [panelBg, squeezedTicks, sigPlugin(sig)]
  });
}
const facetNames = ['Archaea', 'Bacteria', 'Viruses'];
const facetL = [1845.1, 2241.3, 2635.6], facetR = [2225, 2622.3, 3018.5];
facet({ l: facetL[0], r: facetR[0], t: 166.2, b: 1645 }, archaeaBoxes, archaeaOutliers, archaeaSig, true);
facet({ l: facetL[1], r: facetR[1], t: 166.2, b: 1645 }, bacteriaBoxes, bacteriaOutliers, bacteriaSig, false);
facet({ l: facetL[2], r: facetR[2], t: 166.2, b: 1645 }, virusesBoxes, virusesOutliers, virusesSig, false);
facetNames.forEach(function (n, i) {
  addBox(facetL[i], 117.2, facetR[i] - facetL[i], 49, { background: '#D9D9D9' });
  addText(n, (facetL[i] + facetR[i]) / 2, 142, { size: 27, color: '#1A1A1A', sx: 0.8 });
});
addText('Layers', 2432, 1704, { size: 33, sx: 0.82 });
addText('Proportion', 1773, 905, { size: 30, rotate: -90 });

// layers legend
addText('Layers', 3051, 817, { size: 34, anchor: 'left' });
addBox(3059.5, 858, 43.5, 142, { background: '#F2F2F2' });
layerNames.forEach(function (n, i) {
  const cy = 881.5 + i * 47.5;
  addBox(3081, cy - 19, 2, 38, { background: layerEdge[i] });
  addBox(3065, cy - 12, 34, 24, { background: layerFill[i], border: '2.5px solid ' + layerEdge[i] });
  addBox(3065, cy - 1.5, 34, 3, { background: layerEdge[i] });
  addText(n, 3118, cy, { size: 26, anchor: 'left', sx: 0.8 });
});

// ---- texts around A, B, C
addText('A', 39.5, 127, { font: DEJAVU, size: 71 });
addText('B', 40.5, 1232, { font: DEJAVU, size: 71 });
addText('C', 36.5, 1872, { font: DEJAVU, size: 71 });
addText('D', 1758.5, 127, { font: DEJAVU, size: 71 });
addText('Distance', 113, 528, { size: 38, rotate: -90 });
addText('Frequency', 130, 1475, { size: 33, rotate: -90 });
addText('Frequency', 130, 2098, { size: 33, rotate: -90 });
addText('Samples', 1724, 1069, { size: 26.5, rotate: -90 });
addText('Groups:', 323, 74, { font: DEJAVU, size: 28, anchor: 'left' });
groupNames.forEach(function (g, i) {
  addText(g + ': Group ' + (i + 1), 323, 146.4 + i * 36.6, { font: DEJAVU, size: 28.5, color: '#666', anchor: 'left' });
});
const groupLabelX = [219, 284, 357, 807.6, 1033.6, 1207.8, 1540];
groupNames.forEach(function (g, i) { addText(g, groupLabelX[i], 733.5, { size: 24, color: '#666' }); });

// ---- domains legend
addBox(1442.3, 358, 212.7, 245, { border: '2.4px solid #7F7F7F' });
addText('Domains', 1475, 406, { size: 28, anchor: 'left' });
['Archaea', 'Bacteria', 'Viruses'].forEach(function (d, i) {
  addBox(1475, 438 + i * 46, 42, 43, { background: domainColor[d] });
  addText(d, 1535, 458.5 + i * 45.8, { size: 23, anchor: 'left' });
});

// ---- species legend
addText('Species', 1717, 1803, { size: 37, anchor: 'left' });
const legendSwatchX = [1717.9, 2076, 2433.7, 2777];
const legendTextX = [1757.7, 2115, 2472.9, 2816.8];
speciesNames.forEach(function (n, i) {
  const col = Math.floor(i / 19), row = i % 19;
  const cy = 1842.6 + row * 29.95;
  addBox(legendSwatchX[col], cy - 13.7, 29, 27.4, { background: speciesColors[i] });
  addText(n, legendTextX[col], cy + (n.indexOf('\n') >= 0 ? 3 : 0), { size: 17.5, color: '#333', anchor: 'left', sx: 0.87, lineHeight: 0.85 });
});

// ---- map inset and layer key
const P = oceanColor.Pacific, B = oceanColor.Atlantic, I = oceanColor.Indian;
const smallDots = [[407,90,P],[407,125,P],[302,378,P],[405,407,P],[258,280,P],[904,156,B],[1014,273,B],[1071,385,B],[1168,397,B],[1170,431,B],[1232,434,I],[1438,238,I]];
const largeDots = [[300,228,P],[210,333,P],[500,416,P],[775,280,B],[715,376,B],[1355,228,I],[1316,367,I]];
const callouts = [
  ['Station: 111', 175, 95, 405, 185, P], ['Station: 98', 102, 197, 318, 290, P], ['Station: 93', 398, 287, 612, 380, P],
  ['Station: 76', 668, 140, 885, 235, B], ['Station: 78', 592, 235, 808, 330, B],
  ['Station: 58', 1232, 110, 1447, 205, I], ['Station: 64', 1192, 235, 1408, 330, I]];
let svg = '<svg style="left:900px;top:0" width="800" height="620" viewBox="0 0 1568 1568" preserveAspectRatio="none">';
svg += '<rect x="82" y="50" width="1412" height="467" fill="#D3D9FB"/>';
svg += '<path fill="#FDFDFF" d="M450 50L430 100L455 170L480 230L520 285L545 380L540 440L490 490L485 517L560 517L590 470L612 440L665 385L690 340L810 300L820 250L780 140L730 120L680 90L665 50Z"/>';
svg += '<path fill="#FDFDFF" d="M1105 50L1105 85L1135 185L1125 230L1150 330L1160 380L1200 420L1240 420L1290 340L1340 240L1335 130L1380 50Z"/>';
largeDots.forEach(function (d) {
  svg += '<ellipse cx="' + d[0] + '" cy="' + d[1] + '" rx="38" ry="47" fill="none" stroke="' + d[2] + '" stroke-width="9"/>';
  svg += '<ellipse cx="' + d[0] + '" cy="' + d[1] + '" rx="17" ry="21" fill="' + d[2] + '"/>';
});
smallDots.forEach(function (d) {
  svg += '<ellipse cx="' + d[0] + '" cy="' + d[1] + '" rx="13" ry="16" fill="#EEF0FF" stroke="' + d[2] + '" stroke-width="3.5"/>';
  svg += '<ellipse cx="' + d[0] + '" cy="' + d[1] + '" rx="5" ry="6" fill="' + d[2] + '"/>';
});
callouts.forEach(function (c) {
  const mx = (c[1] + c[3]) / 2;
  svg += '<rect x="' + c[1] + '" y="' + c[2] + '" width="' + (c[3] - c[1]) + '" height="' + (c[4] - c[2]) + '" fill="#F8F8FF" stroke="' + c[5] + '" stroke-width="7"/>';
  svg += '<path d="M' + (mx - 22) + ' ' + (c[4] - 3) + 'L' + mx + ' ' + (c[4] + 30) + 'L' + (mx + 22) + ' ' + (c[4] - 3) + 'Z" fill="#F8F8FF"/>';
});
[[205, 550, 60, 73, P], [640, 552, 58, 73, B], [1092, 552, 58, 73, I]].forEach(function (s) {
  svg += '<rect x="' + s[0] + '" y="' + s[1] + '" width="' + s[2] + '" height="' + s[3] + '" fill="' + s[4] + '"/>';
});
svg += '</svg>';
page.insertAdjacentHTML('beforeend', svg);
function mapX(z) { return 900 + z / 1.96; }
function mapY(z) { return z / 2.53; }
callouts.forEach(function (c) {
  addText(c[0], mapX((c[1] + c[3]) / 2), mapY((c[2] + c[4]) / 2 - 3), { font: SERIF, size: 18, color: '#222' });
});
addText('South Pacific Ocean', mapX(282), mapY(585), { font: SERIF, size: 17.4, color: '#222', anchor: 'left' });
addText('South Atlantic Ocean', mapX(717), mapY(588), { font: SERIF, size: 17.4, color: '#222', anchor: 'left' });
addText('Indian Ocean', mapX(1168), mapY(588), { font: SERIF, size: 17.4, color: '#222', anchor: 'left' });

const layerKey = [['(SRF) surface water layer', 280, 278, 1], ['(DCM) deep chlorophyll maximum layer', 307.5, 306.3, 2], ['(MES) mesopelagic zone', 334, 334.8, 3]];
const keyDotX = [1043.9, 1018.9, 993.4];
layerKey.forEach(function (k) {
  addText(k[0], 1057, k[1], { font: DEJAVU, size: 25.2, anchor: 'left' });
  for (let i = 0; i < k[3]; i++) {
    addBox(keyDotX[i] - 9.5, k[2] - 10, 19, 20, { border: '7px solid #000', borderRadius: '50%', background: '#fff' });
  }
});
</script>
</body>
</html>
